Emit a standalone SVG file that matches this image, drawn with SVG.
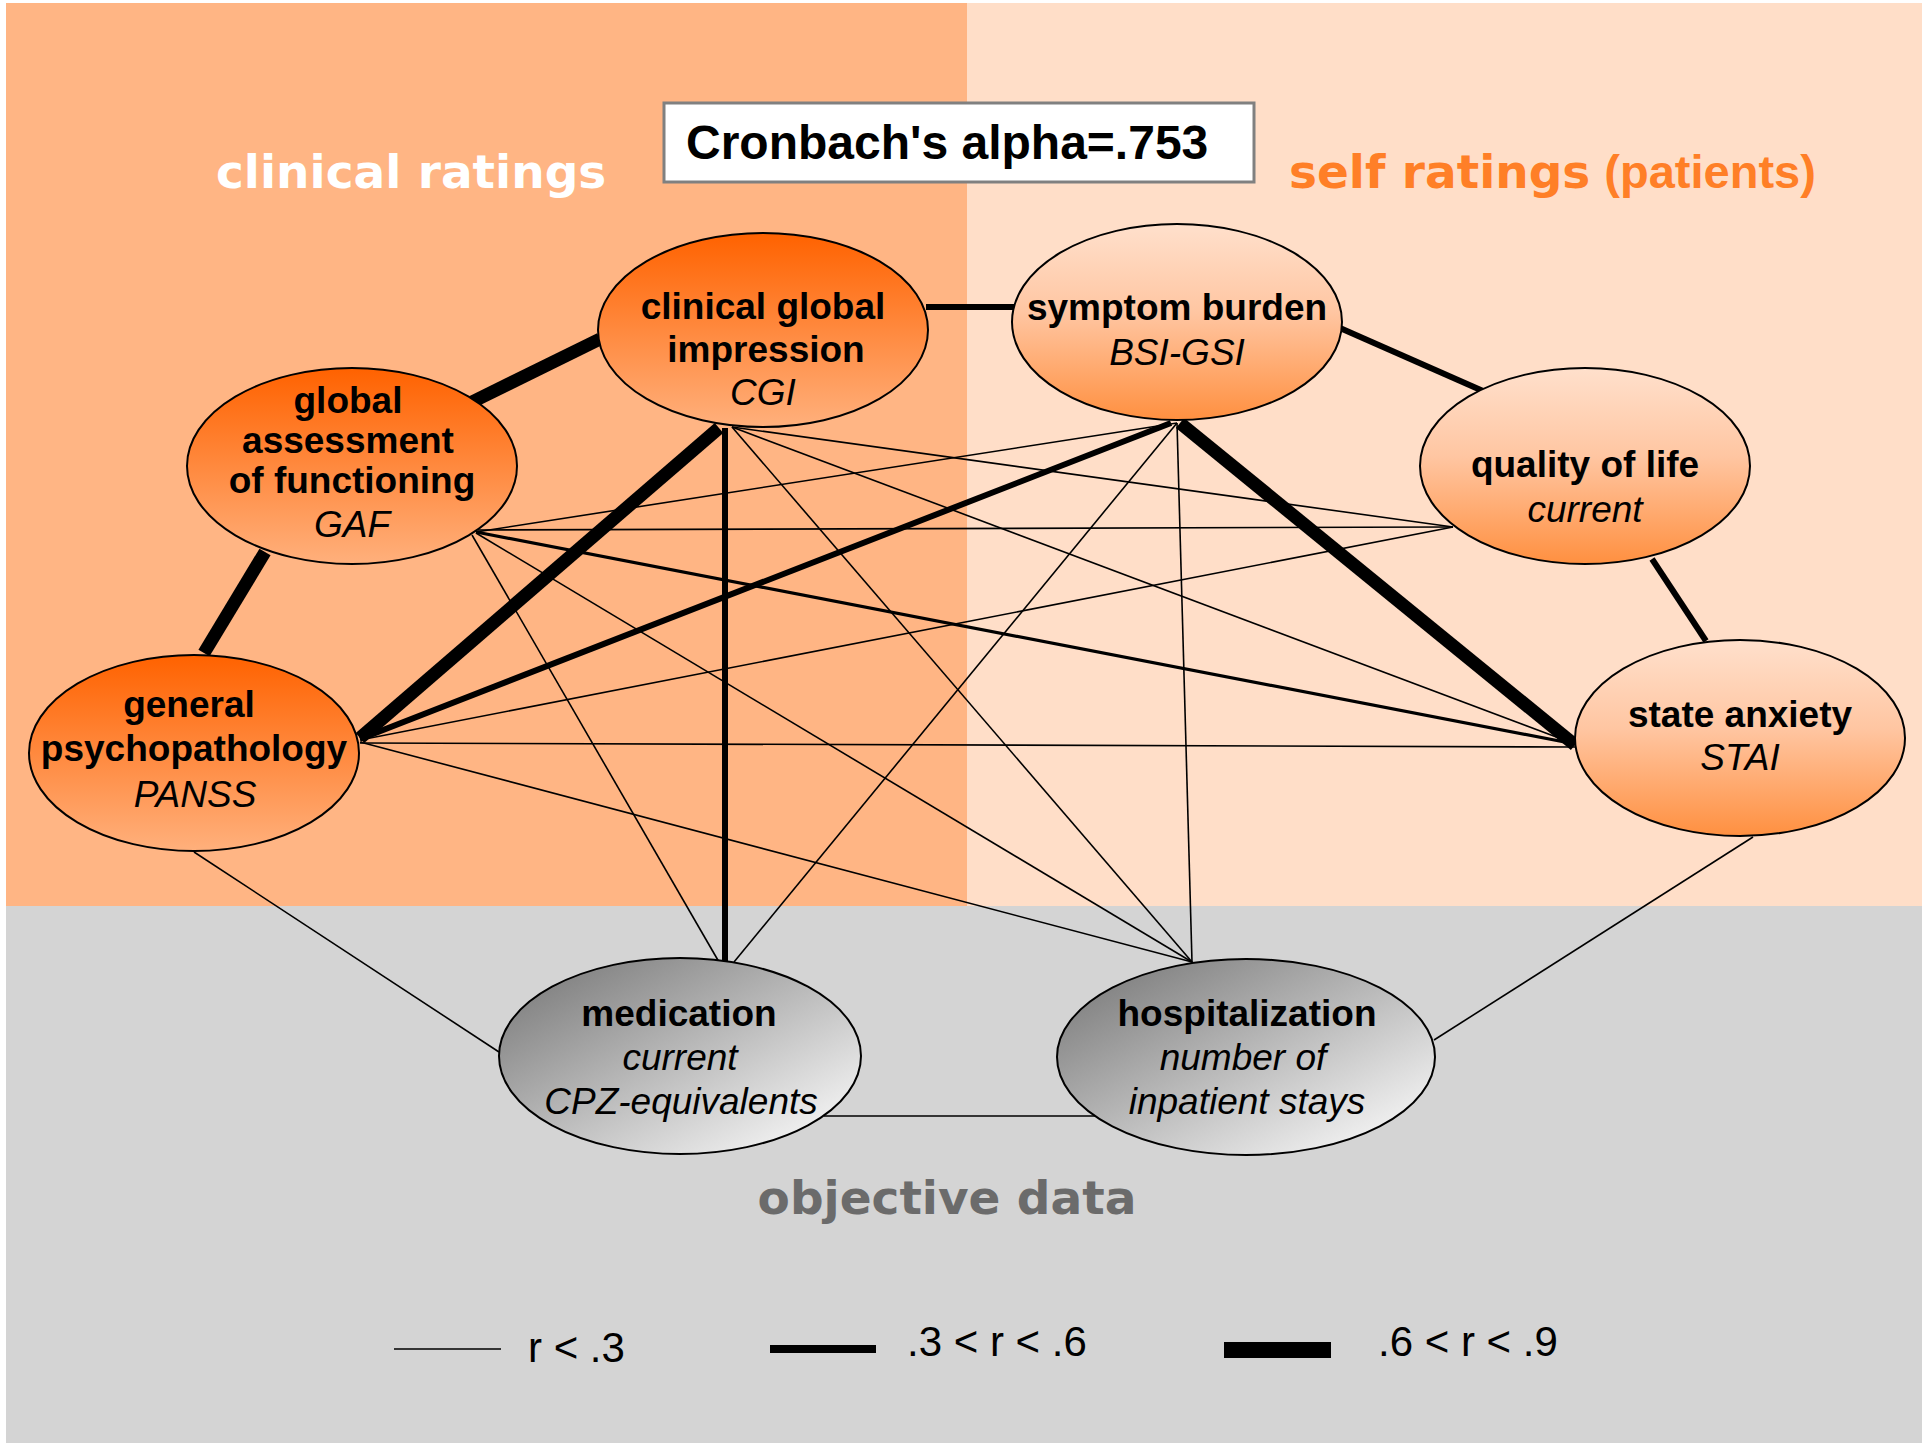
<svg xmlns="http://www.w3.org/2000/svg" width="1922" height="1447" viewBox="0 0 1922 1447">
<defs>
<linearGradient id="gClin" x1="0" y1="0" x2="0" y2="1">
<stop offset="0" stop-color="#FF6200"/>
<stop offset="1" stop-color="#FFB07C"/>
</linearGradient>
<linearGradient id="gSelf" x1="0" y1="0" x2="0" y2="1">
<stop offset="0" stop-color="#FFE0CC"/>
<stop offset="0.45" stop-color="#FFC6A2"/>
<stop offset="1" stop-color="#FF9040"/>
</linearGradient>
<linearGradient id="gGrey" x1="0.1" y1="0.1" x2="0.9" y2="0.9">
<stop offset="0" stop-color="#808080"/>
<stop offset="1" stop-color="#F4F4F4"/>
</linearGradient>
<style>
.node{stroke:#000;stroke-width:2}
.t{font-family:"Liberation Sans",Arial,sans-serif;font-size:37px;fill:#000;text-anchor:middle}
.b{font-weight:bold}
.i{font-style:italic}
.head{font-family:"DejaVu Sans",Verdana,sans-serif;font-weight:bold;font-size:47px}
.thin{stroke:#000;stroke-width:1.6;fill:none}
.med{stroke:#000;stroke-width:6;fill:none}
.mid{stroke:#000;stroke-width:3.2;fill:none}
.thick{stroke:#000;stroke-width:13;fill:none}
.leg{font-family:"Liberation Sans",Arial,sans-serif;font-size:42px;fill:#000}
</style>
</defs>
<rect x="0" y="0" width="1922" height="1447" fill="#FFFFFF"/>
<g id="background">
<rect x="6" y="3" width="961" height="903" fill="#FFB584"/>
<rect x="967" y="3" width="955" height="903" fill="#FFDEC8"/>
<rect x="6" y="906" width="1916" height="537" fill="#D4D4D4"/>
</g>
<g id="titles">
<text class="head" x="216" y="188" fill="#FFFFFF">clinical ratings</text>
<text x="1289" y="188" fill="#FF7F27"><tspan class="head">self ratings</tspan><tspan font-family="Liberation Sans,Arial,sans-serif" font-weight="bold" font-size="47px" dx="14">(patients)</tspan></text>
<text class="head" x="947" y="1214" fill="#6B6B6B" text-anchor="middle" font-size="46.5px">objective data</text>
</g>
<g id="alpha-box">
<rect x="664" y="103" width="590" height="79" fill="#FFFFFF" stroke="#808080" stroke-width="3"/>
<text x="686" y="159" font-family="Liberation Sans,Arial,sans-serif" font-weight="bold" font-size="48px" fill="#000">Cronbach's alpha=.753</text>
</g>
<g id="connectors">
<line class="thick" x1="600" y1="339" x2="472" y2="402"/>
<line class="thick" x1="265" y1="552" x2="204" y2="653"/>
<line class="thick" x1="719" y1="428" x2="360" y2="738"/>
<line class="thick" x1="1180" y1="423" x2="1575" y2="745"/>
<line class="med" x1="926" y1="307" x2="1014" y2="307"/>
<line class="med" x1="1340" y1="328" x2="1483" y2="391"/>
<line class="med" x1="1652" y1="559" x2="1706" y2="641"/>
<line class="med" x1="725" y1="428" x2="725" y2="962"/>
<line class="med" x1="1171" y1="423" x2="360" y2="739"/>
<line class="mid" x1="476" y1="532" x2="1575" y2="744"/>
<line class="thin" x1="732" y1="427" x2="1453" y2="527"/>
<line class="thin" x1="732" y1="427" x2="1575" y2="744"/>
<line class="thin" x1="732" y1="427" x2="1192" y2="962"/>
<line class="thin" x1="1177" y1="423" x2="476" y2="532"/>
<line class="thin" x1="1177" y1="423" x2="734" y2="962"/>
<line class="thin" x1="1177" y1="423" x2="1192" y2="962"/>
<line class="thin" x1="478" y1="530" x2="1453" y2="527"/>
<line class="thin" x1="472" y1="535" x2="719" y2="962"/>
<line class="thin" x1="476" y1="533" x2="1192" y2="962"/>
<line class="thin" x1="360" y1="740" x2="1453" y2="527"/>
<line class="thin" x1="360" y1="743" x2="1575" y2="747"/>
<line class="thin" x1="360" y1="742" x2="1192" y2="962"/>
<line class="thin" x1="194" y1="852" x2="499" y2="1052"/>
<line class="thin" x1="1753" y1="837" x2="1434" y2="1040"/>
<line class="thin" x1="824" y1="1116" x2="1097" y2="1116"/>
</g>
<g id="node-cgi">
<ellipse class="node" cx="763" cy="330" rx="165" ry="97" fill="url(#gClin)"/>
<text class="t b" x="763" y="319">clinical global</text>
<text class="t b" x="766" y="362">impression</text>
<text class="t i" x="763" y="405">CGI</text>
</g>
<g id="node-bsi">
<ellipse class="node" cx="1177" cy="322" rx="165" ry="98" fill="url(#gSelf)"/>
<text class="t b" x="1177" y="320">symptom burden</text>
<text class="t i" x="1177" y="365">BSI-GSI</text>
</g>
<g id="node-gaf">
<ellipse class="node" cx="352" cy="466" rx="165" ry="98" fill="url(#gClin)"/>
<text class="t b" x="348" y="413">global</text>
<text class="t b" x="348" y="453">assessment</text>
<text class="t b" x="352" y="493">of functioning</text>
<text class="t i" x="352" y="537">GAF</text>
</g>
<g id="node-qol">
<ellipse class="node" cx="1585" cy="466" rx="165" ry="98" fill="url(#gSelf)"/>
<text class="t b" x="1585" y="477">quality of life</text>
<text class="t i" x="1585" y="522">current</text>
</g>
<g id="node-panss">
<ellipse class="node" cx="194" cy="753" rx="165" ry="98" fill="url(#gClin)"/>
<text class="t b" x="189" y="717">general</text>
<text class="t b" x="194" y="761">psychopathology</text>
<text class="t i" x="195" y="807">PANSS</text>
</g>
<g id="node-stai">
<ellipse class="node" cx="1740" cy="738" rx="165" ry="98" fill="url(#gSelf)"/>
<text class="t b" x="1740" y="727">state anxiety</text>
<text class="t i" x="1740" y="770">STAI</text>
</g>
<g id="node-medication">
<ellipse class="node" cx="680" cy="1056" rx="181" ry="98" fill="url(#gGrey)"/>
<text class="t b" x="679" y="1026">medication</text>
<text class="t i" x="680" y="1070">current</text>
<text class="t i" x="681" y="1114">CPZ-equivalents</text>
</g>
<g id="node-hospitalization">
<ellipse class="node" cx="1246" cy="1057" rx="189" ry="98" fill="url(#gGrey)"/>
<text class="t b" x="1247" y="1026">hospitalization</text>
<text class="t i" x="1243" y="1070">number of</text>
<text class="t i" x="1247" y="1114">inpatient stays</text>
</g>
<g id="legend">
<line x1="394" y1="1349" x2="501" y2="1349" stroke="#000" stroke-width="1.6"/>
<text class="leg" x="528" y="1362">r &lt; .3</text>
<line x1="770" y1="1349" x2="876" y2="1349" stroke="#000" stroke-width="8"/>
<text class="leg" x="907" y="1356">.3 &lt; r &lt; .6</text>
<line x1="1224" y1="1350" x2="1331" y2="1350" stroke="#000" stroke-width="16"/>
<text class="leg" x="1378" y="1356">.6 &lt; r &lt; .9</text>
</g>
</svg>
